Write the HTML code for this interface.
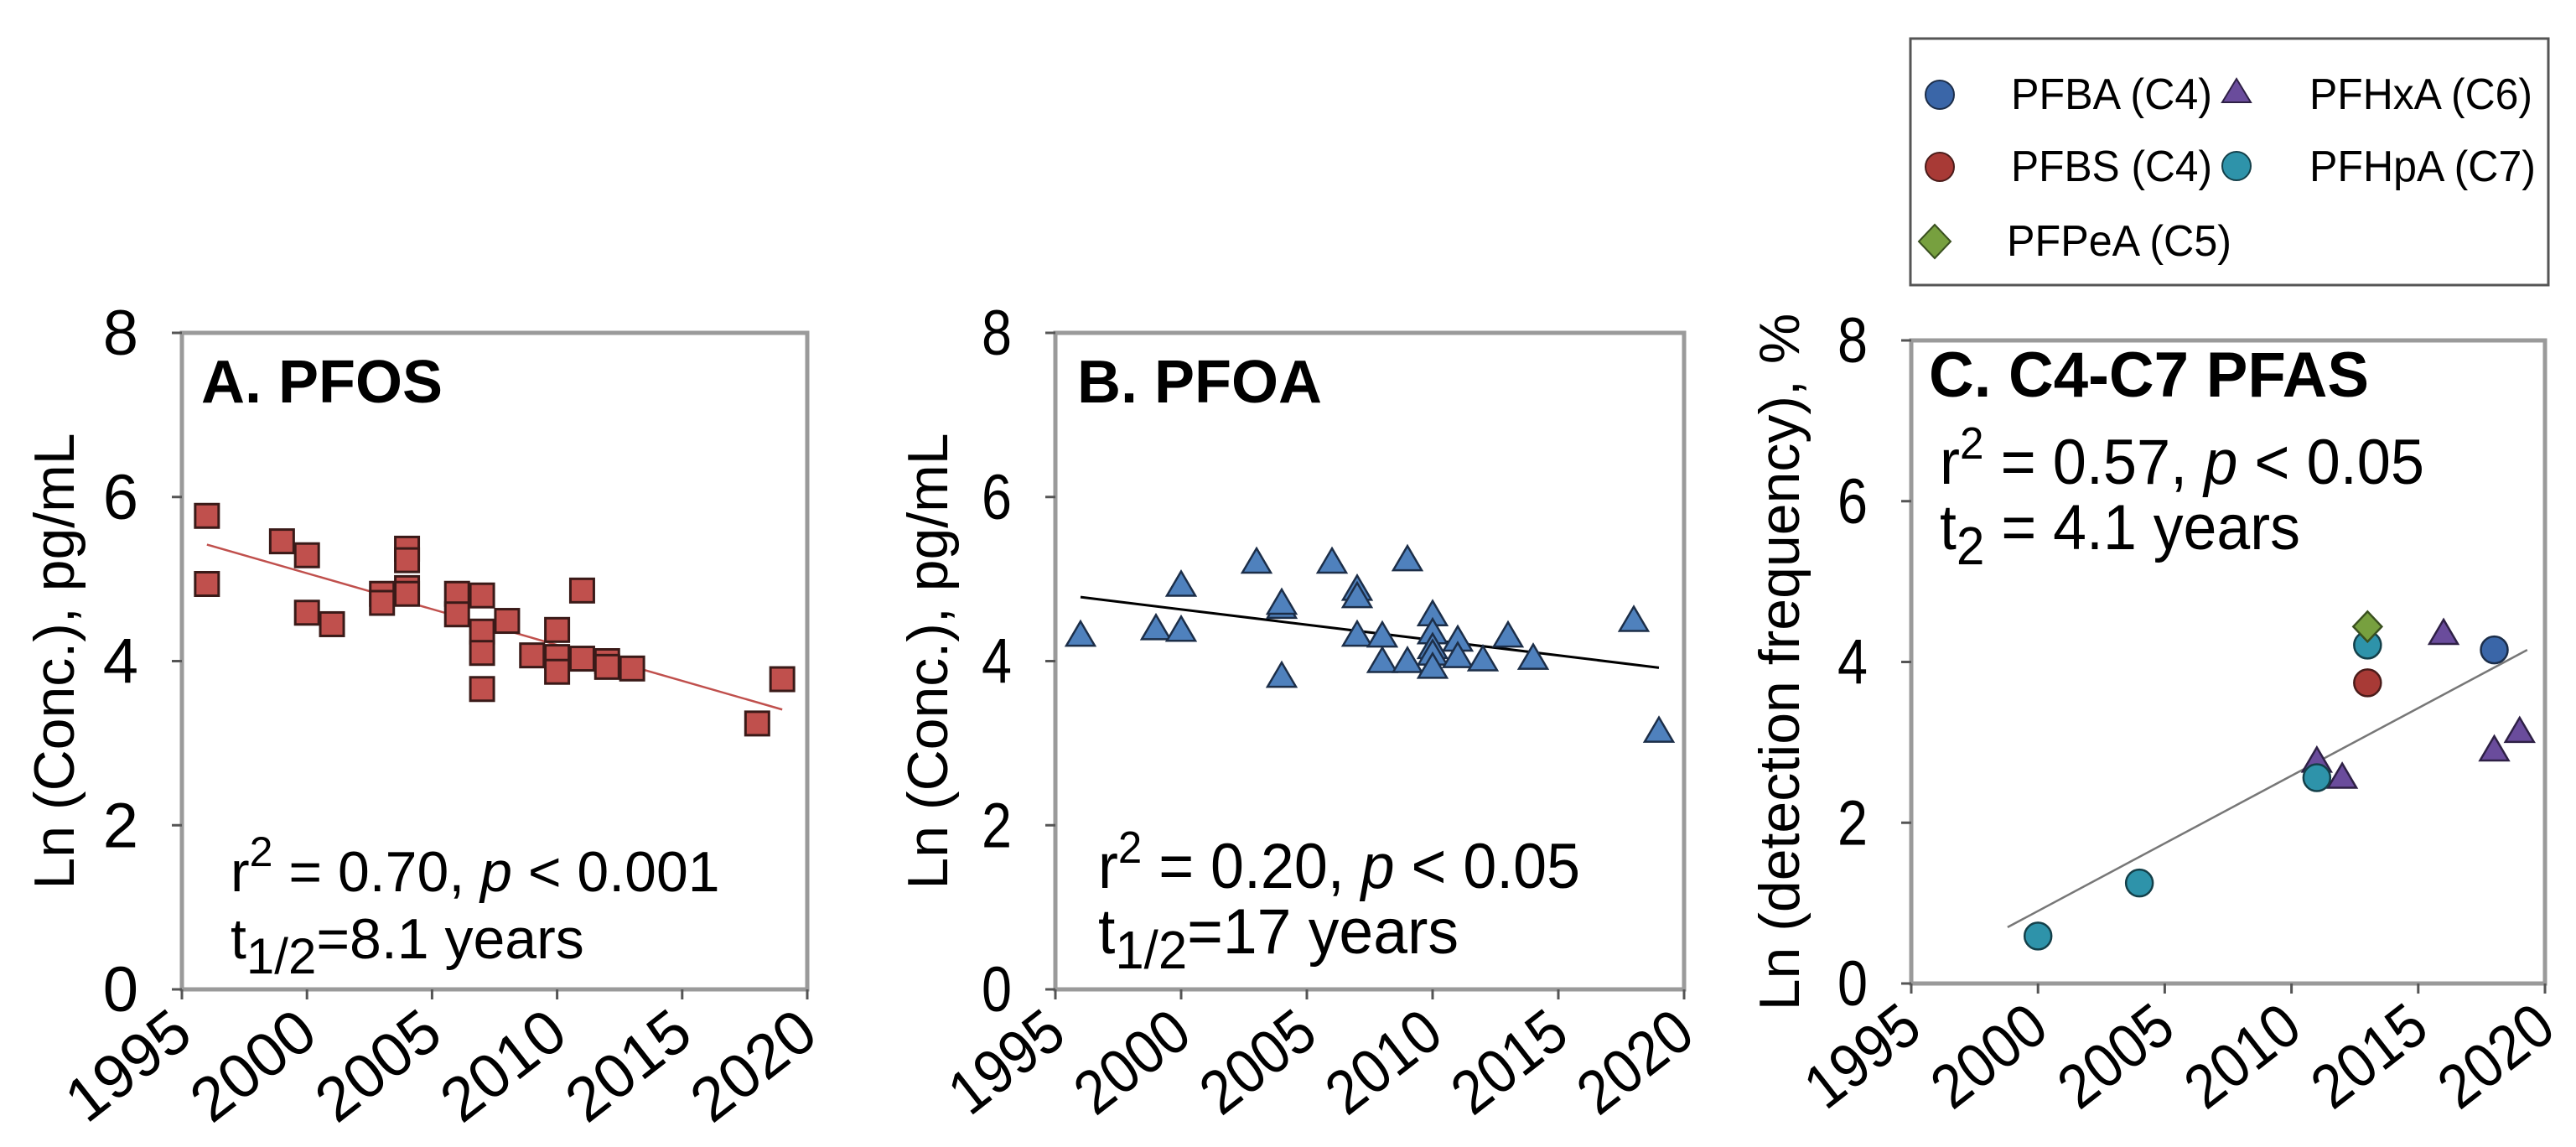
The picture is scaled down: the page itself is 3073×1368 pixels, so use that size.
<!DOCTYPE html>
<html><head><meta charset="utf-8">
<style>
html,body{margin:0;padding:0;background:#fff;}
svg{display:block;}
text{font-family:"Liberation Sans",sans-serif;fill:#000;}
</style></head>
<body>
<svg id="fig" width="3073" height="1368" viewBox="0 0 3073 1368" xmlns="http://www.w3.org/2000/svg">
<g id="gA"></g>
<g id="gB"></g>
<g id="gC"></g>
<g id="legend">
  <rect x="2279" y="46" width="761" height="294" fill="#fff" stroke="#555" stroke-width="3"/>
  <g>
    <ellipse cx="2314" cy="113" rx="17" ry="17" fill="#3a66a8" stroke="#1c2e4a" stroke-width="2"/>
    <text x="2399" y="130" font-size="52" textLength="240" lengthAdjust="spacingAndGlyphs">PFBA (C4)</text>
  </g>
  <g>
    <ellipse cx="2314" cy="199" rx="17" ry="17" fill="#a83a36" stroke="#4a1c1a" stroke-width="2"/>
    <text x="2399" y="216" font-size="52" textLength="240" lengthAdjust="spacingAndGlyphs">PFBS (C4)</text>
  </g>
  <g>
    <polygon points="2308,268 2327,288 2308,308 2289,288" fill="#77a03f" stroke="#3a5020" stroke-width="2"/>
    <text x="2394" y="305" font-size="52" textLength="268" lengthAdjust="spacingAndGlyphs">PFPeA (C5)</text>
  </g>
  <g>
    <polygon points="2668,94 2685,122 2651,122" fill="#6a4c9c" stroke="#2e2045" stroke-width="2"/>
    <text x="2755" y="130" font-size="52" textLength="266" lengthAdjust="spacingAndGlyphs">PFHxA (C6)</text>
  </g>
  <g>
    <ellipse cx="2668" cy="198" rx="17" ry="17" fill="#2e93aa" stroke="#14404a" stroke-width="2"/>
    <text x="2755" y="216" font-size="52" textLength="270" lengthAdjust="spacingAndGlyphs">PFHpA (C7)</text>
  </g>
</g>
</svg>
<script>
// ---- Panel A data (PFOS) ----
const aYears = [1996,1996,1999,2000,2000,2001,2003,2003,2004,2004,2004,2004,2006,2006,2007,2007,2007,2007,2008,2009,2010,2010,2010,2011,2011,2012,2012,2013,2018,2019];
const aValues = [5.77,4.94,5.46,5.29,4.59,4.45,4.82,4.71,5.37,5.23,4.89,4.82,4.82,4.57,4.80,4.36,4.10,3.66,4.49,4.07,4.38,4.05,3.87,4.86,4.03,4.00,3.93,3.91,3.24,3.78];
const aTrendX = [1996,2019];
const aTrendY = [5.42,3.41];
// ---- Panel B data (PFOA) ----
const bYears = [1996,1999,2000,2000,2003,2004,2004,2004,2006,2007,2007,2007,2008,2008,2009,2009,2010,2010,2010,2010,2010,2011,2011,2012,2013,2014,2018,2019];
const bValues = [4.31,4.39,4.92,4.37,5.20,4.65,4.70,3.81,5.20,4.87,4.78,4.31,4.30,3.99,5.23,3.99,4.56,4.34,4.16,4.08,3.92,4.25,4.05,4.01,4.30,4.03,4.49,3.14];
const bTrendX = [1996,2019];
const bTrendY = [4.78,3.92];
// ---- Panel C data ----
const cPfbaYears = [2018];      const cPfbaValues = [4.15];
const cPfbsYears = [2013];      const cPfbsValues = [3.74];
const cPfpeaYears = [2013];     const cPfpeaValues = [4.44];
const cPfhxaYears = [2011,2012,2016,2018,2019]; const cPfhxaValues = [2.76,2.56,4.35,2.90,3.13];
const cPfhpaYears = [2000,2004,2011,2013]; const cPfhpaValues = [0.59,1.25,2.56,4.21];
const cTrendX = [1998.8,2019.3];
const cTrendY = [0.70,4.15];
// ---- Axis ticks ----
const xTicks = [1995,2000,2005,2010,2015,2020];
const yTicks = [0,2,4,6,8];

const NS = "http://www.w3.org/2000/svg";
function mk(tag, attrs, parent, txt){
  const e = document.createElementNS(NS, tag);
  for (const k in attrs) e.setAttribute(k, attrs[k]);
  if (txt !== undefined) e.textContent = txt;
  parent.appendChild(e);
  return e;
}
function axes(L,R,T,B){
  return {x: v => L + (v-1995)/25*(R-L), y: v => B - v/8*(B-T), L,R,T,B};
}
function frame(g, ax, narrow, yTitle, titleX){
  const f = mk('rect', {x:ax.L, y:ax.T, width:ax.R-ax.L, height:ax.B-ax.T, fill:'none', stroke:'#9a9a9a', 'stroke-width':5}, g);
  
  
  yTicks.forEach(t => {
    const y = ax.y(t);
    const tk = mk('line', {x1:ax.L-12, x2:ax.L, y1:y, y2:y, stroke:'#555', 'stroke-width':3}, g);
    
    
    const attrs = {x:ax.L-52, y:y+26, 'font-size':76, 'text-anchor':'end'};
    if (narrow) { attrs.textLength = 36; attrs.lengthAdjust = 'spacingAndGlyphs'; }
    const lb = mk('text', attrs, g, String(t));
    
    
  });
  xTicks.forEach(t => {
    const x = ax.x(t);
    const tk = mk('line', {x1:x, x2:x, y1:ax.B, y2:ax.B+12, stroke:'#555', 'stroke-width':3}, g);
    
    
    const attrs = {x:0, y:0, 'font-size':74, 'text-anchor':'end', transform:`translate(${x+16},${ax.B+60}) rotate(-38)`};
    if (narrow) { attrs.textLength = 150; attrs.lengthAdjust = 'spacingAndGlyphs'; }
    const lb = mk('text', attrs, g, String(t));
    
    
  });
  const yt = mk('text', {x:0, y:0, 'font-size':68, 'text-anchor':'middle', transform:`translate(${titleX},${(ax.T+ax.B)/2}) rotate(-90)`}, g, yTitle);
  
  
}
function trend(g, ax, xs, ys, color, w){
  const l = mk('line', {x1:ax.x(xs[0]), y1:ax.y(ys[0]), x2:ax.x(xs[1]), y2:ax.y(ys[1]), stroke:color, 'stroke-width':w}, g);
  
  
}
function square(g, cx, cy, fill, stroke){
  const e = mk('rect', {x:cx-14, y:cy-14, width:28, height:28, fill, stroke, 'stroke-width':3}, g);
  
  
}
function tri(g, cx, cy, fill, stroke){
  const e = mk('polygon', {points:`${cx},${cy-17} ${cx+17},${cy+12} ${cx-17},${cy+12}`, fill, stroke, 'stroke-width':2.5}, g);
  
  
}
function circ(g, cx, cy, fill, stroke){
  const e = mk('circle', {cx, cy, r:16, fill, stroke, 'stroke-width':2.5}, g);
  
  
}
function diamond(g, cx, cy, fill, stroke){
  const e = mk('polygon', {points:`${cx},${cy-18} ${cx+17},${cy} ${cx},${cy+18} ${cx-17},${cy}`, fill, stroke, 'stroke-width':2.5}, g);
  
  
}
function label(g, name, x, y, size, len, weight, html){
  const attrs = {x, y, 'font-size':size, 'font-weight':weight};
  if (len) { attrs.textLength = len; attrs.lengthAdjust = 'spacingAndGlyphs'; }
  const t = mk('text', attrs, g);
  t.innerHTML = html;
  
  
}

// Panel A
const gA = document.getElementById('gA');
const axA = axes(217,963,397,1180);
frame(gA, axA, false, 'Ln (Conc.), pg/mL', 88);
trend(gA, axA, aTrendX, aTrendY, '#c0504d', 2.5);
aYears.forEach((yr,i) => square(gA, axA.x(yr), axA.y(aValues[i]), '#c0504d', '#3a1a18'));
label(gA, 'panel-title', 240, 480, 72, 0, 'bold', 'A. PFOS');
label(gA, 'stats-r2', 275, 1063, 68, 0, 'normal', 'r<tspan dy="-30" font-size="50">2</tspan><tspan dy="30"> = 0.70, </tspan><tspan font-style="italic">p</tspan> &lt; 0.001');
label(gA, 'stats-half-life', 275, 1143, 68, 0, 'normal', 't<tspan dy="18" font-size="60">1/2</tspan><tspan dy="-18">=8.1 years</tspan>');

// Panel B
const gB = document.getElementById('gB');
const axB = axes(1259,2009,397,1180);
frame(gB, axB, true, 'Ln (Conc.), pg/mL', 1130);
trend(gB, axB, bTrendX, bTrendY, '#000', 3);
bYears.forEach((yr,i) => tri(gB, axB.x(yr), axB.y(bValues[i]), '#4f81bd', '#1c2e48'));
label(gB, 'panel-title', 1285, 480, 72, 0, 'bold', 'B. PFOA');
label(gB, 'stats-r2', 1310, 1059, 76, 575, 'normal', 'r<tspan dy="-30" font-size="54">2</tspan><tspan dy="30"> = 0.20, </tspan><tspan font-style="italic">p</tspan> &lt; 0.05');
label(gB, 'stats-half-life', 1310, 1137, 76, 430, 'normal', 't<tspan dy="18" font-size="64">1/2</tspan><tspan dy="-18">=17 years</tspan>');

// Panel C
const gC = document.getElementById('gC');
const axC = axes(2280,3036,406,1173);
frame(gC, axC, true, 'Ln (detection frequency), %', 2146);
trend(gC, axC, cTrendX, cTrendY, '#777', 2.5);
cPfhxaYears.forEach((yr,i) => tri(gC, axC.x(yr), axC.y(cPfhxaValues[i]), '#6a4c9c', '#2e2045'));
cPfhpaYears.forEach((yr,i) => circ(gC, axC.x(yr), axC.y(cPfhpaValues[i]), '#2e93aa', '#14404a'));
cPfbsYears.forEach((yr,i) => circ(gC, axC.x(yr), axC.y(cPfbsValues[i]), '#a83a36', '#4a1c1a'));
cPfbaYears.forEach((yr,i) => circ(gC, axC.x(yr), axC.y(cPfbaValues[i]), '#3a66a8', '#1c2e4a'));
cPfpeaYears.forEach((yr,i) => diamond(gC, axC.x(yr), axC.y(cPfpeaValues[i]), '#77a03f', '#3a5020'));
label(gC, 'panel-title', 2301, 473, 76, 525, 'bold', 'C. C4-C7 PFAS');
label(gC, 'stats-r2', 2314, 577, 76, 578, 'normal', 'r<tspan dy="-30" font-size="54">2</tspan><tspan dy="30"> = 0.57, </tspan><tspan font-style="italic">p</tspan> &lt; 0.05');
label(gC, 'stats-doubling-time', 2314, 655, 76, 430, 'normal', 't<tspan dy="18" font-size="64">2</tspan><tspan dy="-18"> = 4.1 years</tspan>');
</script>
</body></html>
